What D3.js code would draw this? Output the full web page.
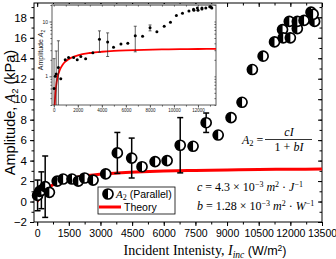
<!DOCTYPE html>
<html><head><meta charset="utf-8">
<script src="https://cdn.jsdelivr.net/npm/d3@7"></script>
<style>
html,body{margin:0;padding:0;background:#fff;}
svg{display:block;}
text{font-family:"Liberation Sans",Arial,sans-serif;}
.serif{font-family:"Liberation Serif","Times New Roman",serif;}
</style></head>
<body>
<script>
// ---- data ----
const intensity = [20, 120, 200, 380, 580, 950, 1230, 1650, 1950, 2250, 2650, 3250, 3800, 4480, 4970, 5590, 6160, 6780, 7390, 8010, 8580, 9190, 9710, 10200, 10710, 11250, 11630, 11660, 12000, 11950, 12330, 12330, 12650, 12980, 13150, 13080];
const amplitude = [0.6, 1.0, 1.1, 1.45, 0.9, 2.0, 2.2, 2.2, 2.0, 2.3, 2.1, 2.7, 4.75, 4.25, 3.4, 3.9, 4.0, 5.5, 5.4, 7.7, 6.5, 8.2, 9.7, 12.9, 14.2, 15.6, 16.8, 16.0, 16.0, 17.6, 16.9, 17.6, 17.7, 18.5, 17.6, 18.3];
const errors = [1.5, 0, 1.8, 3.0, 0, 0, 0, 0, 0, 0, 0, 0, 2.0, 1.95, 0, 0, 0, 2.7, 0, 0.95, 0, 0, 0, 0, 0, 0, 0, 0, 0, 0, 0, 0, 0, 0, 0, 0];
const theoryI = [0, 10, 20, 30, 50, 100, 200, 300, 500, 750, 1000, 1500, 2000, 3000, 4000, 5000, 6000, 7500, 9000, 10500, 12000, 13500];
const theoryA = [0, 0.042, 0.084, 0.124, 0.202, 0.381, 0.685, 0.932, 1.311, 1.645, 1.886, 2.209, 2.416, 2.665, 2.810, 2.905, 2.972, 3.042, 3.091, 3.127, 3.154, 3.176];
const xTicks = [0, 1500, 3000, 4500, 6000, 7500, 9000, 10500, 12000, 13500];
const yTicks = [-2, 0, 2, 4, 6, 8, 10, 12, 14, 16, 18];
const insetXTicks = [0, 2000, 4000, 6000, 8000, 10000, 12000];
const insetYTicks = [1, 10];

const W = 336, H = 259;
const svg = d3.select("body").append("svg").attr("width", W).attr("height", H);

const L = 34, R = 322, T = 3, B = 222;
const x = d3.scaleLinear().domain([-150, 13500]).range([L, R]);
const y = d3.scaleLinear().domain([-2, 19.4]).range([B, T]);

// frame
svg.append("rect").attr("x", L).attr("y", T).attr("width", R - L).attr("height", B - T)
  .attr("fill", "none").attr("stroke", "#000").attr("stroke-width", 1);

// axes
const minorX = d3.range(0, 13501, 750);
const minorY = d3.range(-2, 19.1, 1);
const gB = svg.append("g").attr("transform", `translate(0,${B})`)
  .call(d3.axisBottom(x).tickValues(minorX).tickSize(2.5).tickFormat(""));
gB.select(".domain").remove();
const gB2 = svg.append("g").attr("transform", `translate(0,${B})`)
  .call(d3.axisBottom(x).tickValues(xTicks).tickSize(4).tickPadding(4).tickFormat(d3.format("d")));
gB2.select(".domain").remove();
gB2.selectAll("text").attr("font-size", 10.5).attr("fill", "#000");

const gT = svg.append("g").attr("transform", `translate(0,${T})`)
  .call(d3.axisBottom(x).tickValues(minorX).tickSize(2.5).tickFormat(""));
gT.select(".domain").remove();
const gT2 = svg.append("g").attr("transform", `translate(0,${T})`)
  .call(d3.axisBottom(x).tickValues(xTicks).tickSize(4).tickFormat(""));
gT2.select(".domain").remove();

const gL = svg.append("g").attr("transform", `translate(${L},0)`)
  .call(d3.axisLeft(y).tickValues(minorY).tickSize(2.5).tickFormat(""));
gL.select(".domain").remove();
const gL2 = svg.append("g").attr("transform", `translate(${L},0)`)
  .call(d3.axisLeft(y).tickValues(yTicks).tickSize(4).tickPadding(3).tickFormat(d3.format("d")));
gL2.select(".domain").remove();
gL2.selectAll("text").attr("font-size", 11.5).attr("fill", "#000");

const gR = svg.append("g").attr("transform", `translate(${R},0)`)
  .call(d3.axisRight(y).tickValues(minorY).tickSize(-2.5).tickFormat(""));
gR.select(".domain").remove();
const gR2 = svg.append("g").attr("transform", `translate(${R},0)`)
  .call(d3.axisRight(y).tickValues(yTicks).tickSize(-4).tickFormat(""));
gR2.select(".domain").remove();

// theory curve (main)
svg.append("clipPath").attr("id", "mclip").append("rect")
  .attr("x", L).attr("y", T).attr("width", R - L).attr("height", B - T);
const theory = theoryI.map((d, i) => [d, theoryA[i]]);
svg.append("path").datum(theory).attr("clip-path", "url(#mclip)")
  .attr("d", d3.line().x(d => x(d[0])).y(d => y(d[1])).curve(d3.curveMonotoneX))
  .attr("fill", "none").attr("stroke", "#ff0000").attr("stroke-width", 3);

// data
const data = intensity.map((d, i) => ({I: d, A: amplitude[i], e: errors[i]}));
const eb = svg.append("g").attr("stroke", "#000").attr("stroke-width", 1.5);
data.filter(d => d.e > 0).forEach(d => {
  eb.append("line").attr("x1", x(d.I)).attr("x2", x(d.I)).attr("y1", y(d.A - d.e)).attr("y2", y(d.A + d.e));
  eb.append("line").attr("x1", x(d.I) - 3).attr("x2", x(d.I) + 3).attr("y1", y(d.A - d.e)).attr("y2", y(d.A - d.e));
  eb.append("line").attr("x1", x(d.I) - 3).attr("x2", x(d.I) + 3).attr("y1", y(d.A + d.e)).attr("y2", y(d.A + d.e));
});
function halfMarker(g, cx, cy, r) {
  g.append("circle").attr("cx", cx).attr("cy", cy).attr("r", r).attr("fill", "#fff")
    .attr("stroke", "#000").attr("stroke-width", 1.7);
  g.append("path").attr("d", `M${cx},${cy - r} A${r},${r} 0 0 0 ${cx},${cy + r} Z`).attr("fill", "#000");
}
const mk = svg.append("g");
data.forEach(d => halfMarker(mk, x(d.I), y(d.A), 5));

// legend
svg.append("rect").attr("x", 98).attr("y", 187).attr("width", 77).attr("height", 27)
  .attr("fill", "#fff").attr("stroke", "#000").attr("stroke-width", 0.8);
halfMarker(svg, 108, 194, 5);
const lt = svg.append("text").attr("x", 116).attr("y", 198).attr("font-size", 10.5);
lt.append("tspan").attr("class", "serif").attr("font-style", "italic").attr("font-size", 11).text("A");
lt.append("tspan").attr("class", "serif").attr("font-size", 8).attr("dy", 2).text("2");
lt.append("tspan").attr("dy", -2).text(" (Parallel)");
svg.append("line").attr("x1", 99).attr("x2", 121).attr("y1", 207).attr("y2", 207)
  .attr("stroke", "#ff0000").attr("stroke-width", 3);
svg.append("text").attr("x", 124).attr("y", 211).attr("font-size", 10.5).text("Theory");

// equation
const eq = svg.append("text").attr("class", "serif").attr("x", 242).attr("y", 143.5).attr("font-size", 12);
eq.append("tspan").attr("font-style", "italic").text("A");
eq.append("tspan").attr("font-size", 8.5).attr("dy", 2).text("2");
eq.append("tspan").attr("dy", -2).text(" =");
svg.append("text").attr("class", "serif").attr("x", 289).attr("y", 136).attr("text-anchor", "middle")
  .attr("font-size", 12).attr("font-style", "italic").text("cI");
svg.append("line").attr("x1", 265).attr("x2", 312).attr("y1", 139.5).attr("y2", 139.5).attr("stroke", "#000").attr("stroke-width", 0.8);
const den = svg.append("text").attr("class", "serif").attr("x", 289).attr("y", 151).attr("text-anchor", "middle").attr("font-size", 12);
den.append("tspan").text("1 + ");
den.append("tspan").attr("font-style", "italic").text("bI");

function constLine(yy, sym, val, unit2) {
  const t = svg.append("text").attr("class", "serif").attr("x", 197).attr("y", yy).attr("font-size", 12);
  t.append("tspan").attr("font-style", "italic").text(sym);
  t.append("tspan").text(" = " + val + " × 10");
  t.append("tspan").attr("font-size", 8).attr("dy", -4.5).text("−3");
  t.append("tspan").attr("dy", 4.5).attr("font-style", "italic").text(" m");
  t.append("tspan").attr("font-size", 8).attr("dy", -4.5).text("2");
  t.append("tspan").attr("dy", 4.5).text(" · ");
  t.append("tspan").attr("font-style", "italic").text(unit2);
  t.append("tspan").attr("font-size", 8).attr("dy", -4.5).text("−1");
}
constLine(191, "c", "4.3", "J");
constLine(210, "b", "1.28", "W");

// axis titles
const yt = svg.append("text").attr("transform", `translate(15,${(T + B) / 2}) rotate(-90)`)
  .attr("text-anchor", "middle").attr("font-size", 14.5);
yt.append("tspan").text("Amplitude, ");
yt.append("tspan").attr("class", "serif").attr("font-style", "italic").text("A");
yt.append("tspan").attr("font-size", 9.5).attr("dy", 2.5).text("2");
yt.append("tspan").attr("dy", -2.5).text(" (kPa)");

const xt = svg.append("text").attr("x", 205).attr("y", 255).attr("text-anchor", "middle").attr("font-size", 14);
xt.append("tspan").attr("class", "serif").text("Incident Intenisty, ");
xt.append("tspan").attr("class", "serif").attr("font-style", "italic").text("I");
xt.append("tspan").attr("class", "serif").attr("font-style", "italic").attr("font-size", 9.5).attr("dy", 2.5).text("inc");
xt.append("tspan").attr("dy", -2.5).attr("font-size", 12.5).text(" (W/m");
xt.append("tspan").attr("font-size", 8.5).attr("dy", -4.5).text("2");
xt.append("tspan").attr("dy", 4.5).attr("font-size", 12.5).text(")");

// ---- inset ----
const iL = 52, iR = 216, iT = 5, iB = 105;
const ix = d3.scaleLinear().domain([-150, 13500]).range([iL, iR]);
const iy = d3.scaleLog().domain([0.3, 20]).range([iB, iT]);
svg.append("rect").attr("x", iL).attr("y", iT).attr("width", iR - iL).attr("height", iB - iT)
  .attr("fill", "#fff").attr("stroke", "#777").attr("stroke-width", 1.2);
svg.append("line").attr("x1", iL).attr("x2", iR).attr("y1", iT).attr("y2", iT).attr("stroke", "#999").attr("stroke-width", 2.2);

const iminorX = d3.range(0, 13001, 1000);
const giB = svg.append("g").attr("transform", `translate(0,${iB})`)
  .call(d3.axisBottom(ix).tickValues(iminorX).tickSize(1.5).tickFormat(""));
giB.select(".domain").remove();
const giB2 = svg.append("g").attr("transform", `translate(0,${iB})`)
  .call(d3.axisBottom(ix).tickValues(insetXTicks).tickSize(2.5).tickPadding(1).tickFormat(d3.format("d")));
giB2.select(".domain").remove();
giB2.selectAll("text").attr("font-size", 4.5).attr("fill", "#222");

const iminorY = [0.3,0.4,0.5,0.6,0.7,0.8,0.9,2,3,4,5,6,7,8,9,20];
const giL = svg.append("g").attr("transform", `translate(${iL},0)`)
  .call(d3.axisLeft(iy).tickValues(iminorY).tickSize(1.5).tickFormat(""));
giL.select(".domain").remove();
const giL2 = svg.append("g").attr("transform", `translate(${iL},0)`)
  .call(d3.axisLeft(iy).tickValues(insetYTicks).tickSize(2.5).tickPadding(1.5).tickFormat(d3.format("d")));
giL2.select(".domain").remove();
giL2.selectAll("text").attr("font-size", 5).attr("fill", "#222");
const giR = svg.append("g").attr("transform", `translate(${iR},0)`)
  .call(d3.axisRight(iy).tickValues(iminorY.concat(insetYTicks)).tickSize(-1.5).tickFormat(""));
giR.select(".domain").remove();
const giT = svg.append("g").attr("transform", `translate(0,${iT})`)
  .call(d3.axisBottom(ix).tickValues(iminorX).tickSize(1.5).tickFormat(""));
giT.select(".domain").remove();
[giB, giB2, giL, giL2, giR, giT].forEach(g => g.selectAll("line").attr("stroke", "#555"));

svg.append("clipPath").attr("id", "iclip").append("rect")
  .attr("x", iL).attr("y", iT).attr("width", iR - iL).attr("height", iB - iT);
const ig = svg.append("g").attr("clip-path", "url(#iclip)");
ig.append("path").datum(theory.filter(d => d[1] > 0))
  .attr("d", d3.line().x(d => ix(d[0])).y(d => iy(d[1])).curve(d3.curveMonotoneX))
  .attr("fill", "none").attr("stroke", "#ff0000").attr("stroke-width", 1.8);
data.filter(d => d.e > 0).forEach(d => {
  const lo = d.A - d.e > 0.01 ? iy(d.A - d.e) : iB + 5;
  ig.append("line").attr("x1", ix(d.I)).attr("x2", ix(d.I)).attr("y1", lo).attr("y2", iy(d.A + d.e))
    .attr("stroke", "#222").attr("stroke-width", 0.7);
  [lo, iy(d.A + d.e)].forEach(v => ig.append("line").attr("x1", ix(d.I) - 1.5).attr("x2", ix(d.I) + 1.5)
    .attr("y1", v).attr("y2", v).attr("stroke", "#222").attr("stroke-width", 0.7));
});
data.forEach(d => ig.append("circle").attr("cx", ix(d.I)).attr("cy", iy(d.A)).attr("r", 1.5).attr("fill", "#000"));

const iyt = svg.append("text").attr("transform", `translate(43,50) rotate(-90)`)
  .attr("text-anchor", "middle").attr("font-size", 7).attr("fill", "#222");
iyt.append("tspan").text("Amplitude ");
iyt.append("tspan").attr("font-style", "italic").text("A");
iyt.append("tspan").attr("font-size", 5).attr("dy", 1.5).text("2");
</script>
</body></html>
